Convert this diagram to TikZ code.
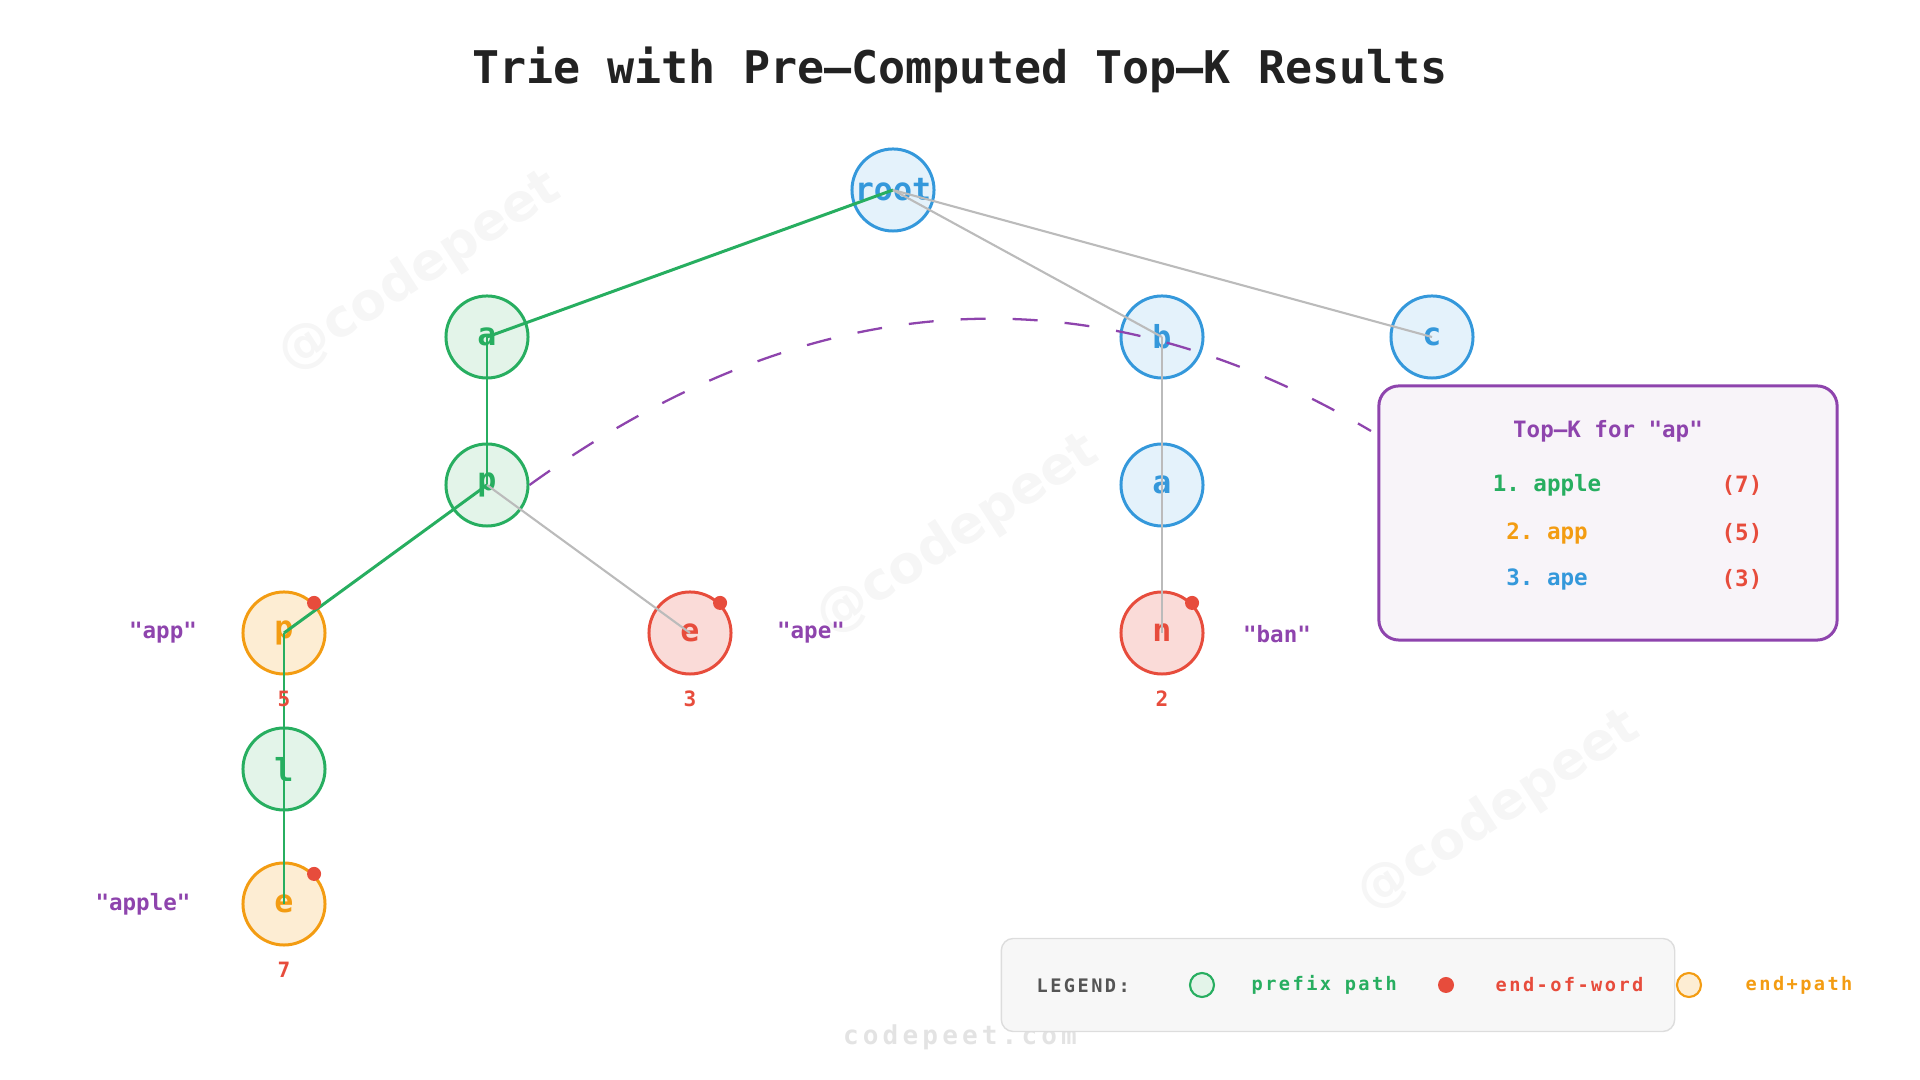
\documentclass[tikz,border=0pt]{standalone}
\usepackage{fontspec}
\setmonofont{DejaVu Sans Mono}
\newfontfamily\markfont{DejaVu Sans}
\definecolor{triegreen}{HTML}{27AE60}
\definecolor{triegreenl}{HTML}{E3F4E9}
\definecolor{trieblue}{HTML}{3498DB}
\definecolor{triebluel}{HTML}{E4F2FB}
\definecolor{triered}{HTML}{E74C3C}
\definecolor{trieredl}{HTML}{FADBD8}
\definecolor{trieorange}{HTML}{F39C12}
\definecolor{trieorangel}{HTML}{FDEDD3}
\definecolor{triepurple}{HTML}{8E44AD}
\definecolor{triegray}{HTML}{BBBBBB}
\definecolor{boxfill}{HTML}{F8F4F9}
\definecolor{legendfill}{HTML}{F7F7F7}
\definecolor{legendline}{HTML}{DDDDDD}
\definecolor{marktext}{HTML}{F6F6F6}
\definecolor{footertext}{HTML}{E3E3E3}
\definecolor{titletext}{HTML}{222222}
\definecolor{legendtext}{HTML}{555555}

\begin{document}
\begin{tikzpicture}[x=0.01cm,y=-0.01cm,
  trienode/.style={circle,minimum size=0.82cm,inner sep=0pt,line width=0.85pt,font=\ttfamily\bfseries\fontsize{9}{9}\selectfont},
  prefixnode/.style={trienode,draw=triegreen,fill=triegreenl,text=triegreen},
  plainnode/.style={trienode,draw=trieblue,fill=triebluel,text=trieblue},
  endnode/.style={trienode,draw=triered,fill=trieredl,text=triered},
  bothnode/.style={trienode,draw=trieorange,fill=trieorangel,text=trieorange},
  pathedge/.style={triegreen,line width=0.85pt},
  otheredge/.style={triegray,line width=0.6pt},
  wordlabel/.style={text=triepurple,font=\ttfamily\bfseries\fontsize{6.4}{6.4}\selectfont},
  countlabel/.style={text=triered,font=\ttfamily\bfseries\fontsize{6}{6}\selectfont},
  boxtext/.style={font=\ttfamily\bfseries\fontsize{6.4}{6.4}\selectfont},
  legendlabel/.style={anchor=west,inner sep=0pt,font=\ttfamily\bfseries\fontsize{5.3}{5.3}\selectfont\addfontfeature{LetterSpace=13}},
  watermark/.style={rotate=33,text=marktext,font=\markfont\bfseries\fontsize{14.8}{14.8}\selectfont}]
  \useasboundingbox (0,0) rectangle (1920,1080);

  \node[watermark] (mark1) at (420,272) {@codepeet};
  \node[watermark] (mark2) at (958,535) {@codepeet};
  \node[watermark] (mark3) at (1499,811) {@codepeet};

  \node[text=titletext,font=\ttfamily\bfseries\fontsize{12.8}{12.8}\selectfont] (title) at (960,70) {Trie with Pre–Computed Top–K Results};

  \node[plainnode] (root) at (893,190) {root};
  \node[prefixnode] (a) at (487,337) {a};
  \node[plainnode] (b) at (1162,337) {b};
  \node[plainnode] (c) at (1432,337) {c};
  \node[prefixnode] (p) at (487,485) {p};
  \node[plainnode] (ba) at (1162,485) {a};
  \node[bothnode] (pp) at (284,633) {p};
  \node[endnode] (pe) at (690,633) {e};
  \node[endnode] (n) at (1162,633) {n};
  \node[prefixnode] (l) at (284,769) {l};
  \node[bothnode] (le) at (284,904) {e};

  \draw[pathedge] (root.center) -- (a.center);
  \draw[otheredge] (root.center) -- (b.center);
  \draw[otheredge] (root.center) -- (c.center);
  \draw[pathedge] (a.center) -- (p.center);
  \draw[pathedge] (p.center) -- (pp.center);
  \draw[otheredge] (p.center) -- (pe.center);
  \draw[otheredge] (b.center) -- (ba.center);
  \draw[otheredge] (ba.center) -- (n.center);
  \draw[pathedge] (pp.center) -- (l.center);
  \draw[pathedge] (l.center) -- (le.center);

  \fill[triered] (pp.45) circle (2pt);
  \fill[triered] (pe.45) circle (2pt);
  \fill[triered] (n.45) circle (2pt);
  \fill[triered] (le.45) circle (2pt);

  \node[wordlabel] (wapp) at (163,633) {"app"};
  \node[wordlabel] (wape) at (811,633) {"ape"};
  \node[wordlabel] (wban) at (1277,634) {"ban"};
  \node[wordlabel] (wapple) at (143,904) {"apple"};
  \node[countlabel] (capp) at (284,699) {5};
  \node[countlabel] (cape) at (690,699) {3};
  \node[countlabel] (cban) at (1162,699) {2};
  \node[countlabel] (capple) at (284,970) {7};

  \node[draw=triepurple,fill=boxfill,line width=0.85pt,rounded corners=5.7pt,minimum width=4.58cm,minimum height=2.54cm] (topk) at (1608,513) {};
  \node[boxtext,text=triepurple] (ktitle) at (1608,431) {Top–K for "ap"};
  \node[boxtext,text=triegreen] (k1) at (1547,485) {1. apple};
  \node[boxtext,text=trieorange] (k2) at (1547,533) {2. app};
  \node[boxtext,text=trieblue] (k3) at (1547,579) {3. ape};
  \node[boxtext,text=triered] (s1) at (1742,485) {(7)};
  \node[boxtext,text=triered] (s2) at (1742,533) {(5)};
  \node[boxtext,text=triered] (s3) at (1742,579) {(3)};

  \coordinate (kend) at (1371,431);
  \draw[triepurple,line width=0.65pt,dash pattern=on 7.1pt off 7.7pt] (p.east) .. controls (810,283) and (1090,265) .. (kend);

  \node[text=footertext,font=\ttfamily\bfseries\fontsize{7.4}{7.4}\selectfont\addfontfeature{LetterSpace=16}] (footer) at (960,1037) {codepeet.com};

  \node[draw=legendline,fill=legendfill,line width=0.4pt,rounded corners=3.4pt,minimum width=6.73cm,minimum height=0.93cm] (legend) at (1338,985) {};
  \node[legendlabel,text=legendtext] (lgtitle) at (1036,986) {LEGEND:};
  \node[circle,draw=triegreen,fill=triegreenl,line width=0.6pt,minimum size=0.24cm,inner sep=0pt] (lgpath) at (1202,985) {};
  \node[legendlabel,text=triegreen] (lgpathtext) at (1251,985) {prefix path};
  \node[circle,fill=triered,minimum size=0.16cm,inner sep=0pt] (lgend) at (1446,985) {};
  \node[legendlabel,text=triered] (lgendtext) at (1495,985) {end-of-word};
  \node[circle,draw=trieorange,fill=trieorangel,line width=0.6pt,minimum size=0.24cm,inner sep=0pt] (lgboth) at (1689,985) {};
  \node[legendlabel,text=trieorange] (lgbothtext) at (1745,985) {end+path};
\end{tikzpicture}
\end{document}
